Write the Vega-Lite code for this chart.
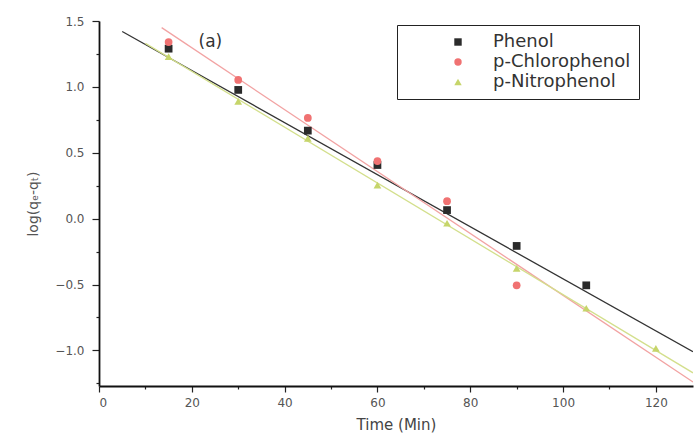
{
  "$schema": "https://vega.github.io/schema/vega-lite/v6.json",
  "width": 594,
  "height": 365,
  "autosize": {"type": "none"},
  "padding": {"left": 99, "top": 21, "right": 5, "bottom": 50},
  "background": "white",
  "config": {"view": {"stroke": null}, "font": "DejaVu Sans"},
  "datasets": {
    "points": [
      {"series": "Phenol", "time": 15, "logq": 1.29},
      {"series": "Phenol", "time": 30, "logq": 0.977},
      {"series": "Phenol", "time": 45, "logq": 0.668},
      {"series": "Phenol", "time": 60, "logq": 0.407},
      {"series": "Phenol", "time": 75, "logq": 0.065},
      {"series": "Phenol", "time": 90, "logq": -0.207},
      {"series": "Phenol", "time": 105, "logq": -0.506},
      {"series": "p-Chlorophenol", "time": 15, "logq": 1.34},
      {"series": "p-Chlorophenol", "time": 30, "logq": 1.053},
      {"series": "p-Chlorophenol", "time": 45, "logq": 0.764},
      {"series": "p-Chlorophenol", "time": 60, "logq": 0.437},
      {"series": "p-Chlorophenol", "time": 75, "logq": 0.133},
      {"series": "p-Chlorophenol", "time": 90, "logq": -0.506},
      {"series": "p-Nitrophenol", "time": 15, "logq": 1.23},
      {"series": "p-Nitrophenol", "time": 30, "logq": 0.89},
      {"series": "p-Nitrophenol", "time": 45, "logq": 0.61},
      {"series": "p-Nitrophenol", "time": 60, "logq": 0.255},
      {"series": "p-Nitrophenol", "time": 75, "logq": -0.035},
      {"series": "p-Nitrophenol", "time": 90, "logq": -0.377},
      {"series": "p-Nitrophenol", "time": 105, "logq": -0.68},
      {"series": "p-Nitrophenol", "time": 120, "logq": -0.985}
    ],
    "fits": [
      {"fit": "Phenol fit", "time": 5, "logq": 1.42},
      {"fit": "Phenol fit", "time": 128, "logq": -1.01},
      {"fit": "p-Chlorophenol fit", "time": 13.5, "logq": 1.45},
      {"fit": "p-Chlorophenol fit", "time": 128, "logq": -1.24},
      {"fit": "p-Nitrophenol fit", "time": 10, "logq": 1.33},
      {"fit": "p-Nitrophenol fit", "time": 128, "logq": -1.17}
    ],
    "notes": [
      {"time": 24, "logq": 1.34, "label": "(a)"}
    ]
  },
  "encoding": {
    "x": {
      "field": "time", "type": "quantitative",
      "scale": {"domain": [0, 128], "nice": false, "zero": false},
      "axis": {
        "title": "Time (Min)",
        "values": [0, 10, 20, 30, 40, 50, 60, 70, 80, 90, 100, 110, 120],
        "labelExpr": "datum.value % 20 === 0 ? format(datum.value, 'd') : ''",
        "grid": false,
        "domainColor": "#111", "domainWidth": 1.8,
        "tickColor": "#222", "tickWidth": 1.2,
        "tickSize": {"condition": {"test": "datum.value % 20 === 0", "value": 6}, "value": 3},
        "labelFont": "DejaVu Sans", "labelFontSize": 12, "labelColor": "#555", "labelPadding": 5,
        "titleFont": "DejaVu Sans", "titleFontSize": 15, "titleFontWeight": "normal", "titleColor": "#444", "titlePadding": 9
      }
    },
    "y": {
      "field": "logq", "type": "quantitative",
      "scale": {"domain": [-1.27, 1.5], "nice": false, "zero": false},
      "axis": {
        "title": "log(qₑ-qₜ)",
        "values": [-1.25, -1.0, -0.75, -0.5, -0.25, 0, 0.25, 0.5, 0.75, 1.0, 1.25, 1.5],
        "labelExpr": "abs(datum.value*2 - round(datum.value*2)) < 0.001 ? format(datum.value, '.1f') : ''",
        "grid": false,
        "domainColor": "#111", "domainWidth": 1.8,
        "tickColor": "#222", "tickWidth": 1.2,
        "tickSize": {"condition": {"test": "abs(datum.value*2 - round(datum.value*2)) < 0.001", "value": 7}, "value": 3},
        "labelFont": "DejaVu Sans", "labelFontSize": 12, "labelColor": "#555", "labelPadding": 8,
        "titleFont": "DejaVu Sans", "titleFontSize": 14, "titleFontWeight": "normal", "titleColor": "#555", "titlePadding": 14
      }
    }
  },
  "layer": [
    {
      "data": {"name": "fits"},
      "mark": {"type": "line", "strokeWidth": 1.3, "clip": true},
      "encoding": {
        "stroke": {
          "field": "fit", "type": "nominal",
          "scale": {"domain": ["Phenol fit", "p-Chlorophenol fit", "p-Nitrophenol fit"], "range": ["#333333", "#f2a3a3", "#d3df8c"]},
          "legend": null
        }
      }
    },
    {
      "data": {"name": "points"},
      "mark": {"type": "point", "filled": true, "size": 60, "opacity": 1},
      "encoding": {
        "color": {
          "field": "series", "type": "nominal",
          "scale": {"domain": ["Phenol", "p-Chlorophenol", "p-Nitrophenol"], "range": ["#2b2b2b", "#f07272", "#c6d56a"]},
          "legend": {
            "title": null,
            "orient": "none", "legendX": 298, "legendY": 4,
            "strokeColor": "#222", "fillColor": "white", "padding": 8,
            "symbolOffset": 44, "labelOffset": 26, "rowPadding": 2,
            "symbolSize": 55,
            "labelFont": "DejaVu Sans", "labelFontSize": 18, "labelColor": "#333", "labelLimit": 300
          }
        },
        "shape": {
          "field": "series", "type": "nominal",
          "scale": {"domain": ["Phenol", "p-Chlorophenol", "p-Nitrophenol"], "range": ["square", "circle", "triangle-up"]},
          "legend": {
            "title": null,
            "orient": "none", "legendX": 298, "legendY": 4,
            "strokeColor": "#222", "fillColor": "white", "padding": 8,
            "symbolOffset": 44, "labelOffset": 26, "rowPadding": 2,
            "symbolSize": 55,
            "labelFont": "DejaVu Sans", "labelFontSize": 18, "labelColor": "#333", "labelLimit": 300
          }
        }
      }
    },
    {
      "data": {"name": "notes"},
      "mark": {"type": "text", "font": "DejaVu Sans", "fontSize": 17, "color": "#333"},
      "encoding": {"text": {"field": "label"}}
    }
  ]
}
